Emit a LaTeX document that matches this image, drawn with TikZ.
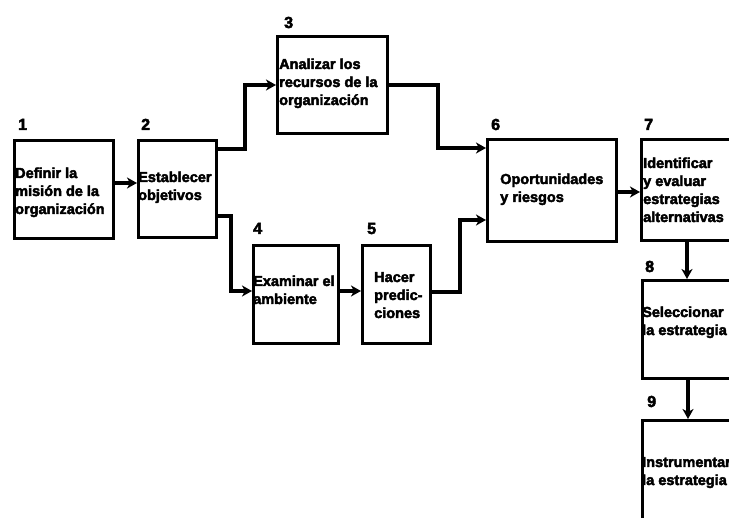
\documentclass[tikz,border=0pt]{standalone}
\usepackage{fontspec}
\setmainfont{Liberation Sans}[BoldFeatures={FakeBold=3}]
\usetikzlibrary{arrows.meta}
\begin{document}
\begin{tikzpicture}[x=1pt,y=-1pt,
  box/.style={draw, line width=3.4pt, inner sep=0pt, anchor=north west},
  % multi-line texts: the anchor sits on the baseline of the last line
  txt/.style={anchor=base west, inner sep=0pt, align=left,
    font=\fontsize{14.5}{18}\selectfont\bfseries},
  num/.style={anchor=base west, inner sep=0pt,
    font=\fontsize{16}{18}\selectfont\bfseries},
  link/.style={line width=3.2pt, -{Stealth[length=10pt,width=11pt,inset=3pt]}},
  line join=miter]
\useasboundingbox (0,0) rectangle (729,518);
\clip (0,0) rectangle (729,518);

% boxes
\node[box, minimum width=99pt,  minimum height=98pt]  (b1) at (13,139) {};
\node[box, minimum width=78pt,  minimum height=97pt]  (b2) at (137,139) {};
\node[box, minimum width=110pt, minimum height=97pt]  (b3) at (276,35) {};
\node[box, minimum width=85pt,  minimum height=98pt]  (b4) at (252,244) {};
\node[box, minimum width=68pt,  minimum height=98pt]  (b5) at (361,244) {};
\node[box, minimum width=129pt, minimum height=102pt] (b6) at (486,138) {};
\node[box, minimum width=110pt, minimum height=101pt] (b7) at (640,138) {};
\node[box, minimum width=110pt, minimum height=98pt]  (b8) at (641,279) {};
\node[box, minimum width=110pt, minimum height=100pt] (b9) at (641,419) {};

% step numbers
\node[num] (n1) at (18,130) {1};
\node[num] (n2) at (141,130) {2};
\node[num] (n3) at (284,28) {3};
\node[num] (n4) at (253,234) {4};
\node[num] (n5) at (367,234) {5};
\node[num] (n6) at (491,130) {6};
\node[num] (n7) at (644,130) {7};
\node[num] (n8) at (645,272) {8};
\node[num] (n9) at (647,407) {9};

% texts
\node[txt] (t1) at (15,214) {Definir la\\misión de la\\organización};
\node[txt] (t2) at (138,200) {Establecer\\objetivos};
\node[txt] (t3) at (279,105) {Analizar los\\recursos de la\\organización};
\node[txt] (t4) at (253,304) {Examinar el\\ambiente};
\node[txt] (t5) at (374,318) {Hacer\\predic-\\ciones};
\node[txt] (t6) at (500,202) {Oportunidades\\y riesgos};
\node[txt] (t7) at (643,222) {Identificar\\y evaluar\\estrategias\\alternativas};
\node[txt] (t8) at (642,335) {Seleccionar\\la estrategia};
\node[txt] (t9) at (642,485) {Instrumentar\\la estrategia};

% connectors
\draw[link] (b1.east |- 0,183) -- (b2.west |- 0,183);
\draw[link] (b2.east |- 0,149) -- (245,149) -- (245,85) -- (b3.west |- 0,85);
\draw[link] (b3.east |- 0,85) -- (438,85) -- (438,148) -- (b6.west |- 0,148);
\draw[link] (b2.east |- 0,216) -- (231,216) -- (231,291) -- (b4.west |- 0,291);
\draw[link] (b4.east |- 0,291) -- (b5.west |- 0,291);
\draw[link] (b5.east |- 0,292) -- (460,292) -- (460,220) -- (b6.west |- 0,220);
\draw[link] (b6.east |- 0,192) -- (b7.west |- 0,192);
\draw[link] (b7.south -| 687,0) -- (b8.north -| 687,0);
\draw[link] (b8.south -| 688,0) -- (b9.north -| 688,0);
\end{tikzpicture}
\end{document}
